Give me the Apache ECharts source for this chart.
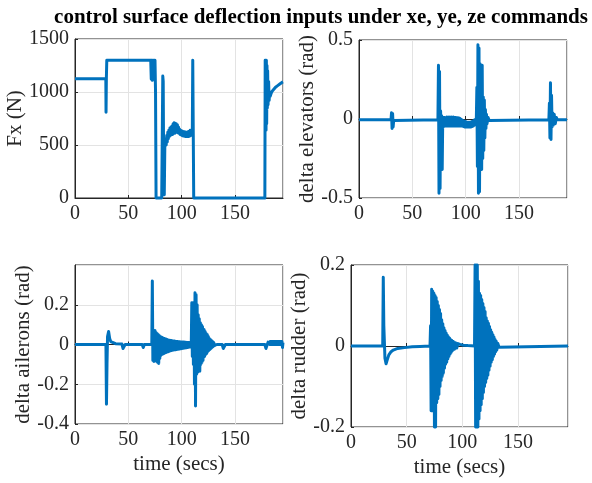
<!DOCTYPE html>
<html>
<head>
<meta charset="utf-8">
<script src="https://cdn.jsdelivr.net/npm/echarts@6/dist/echarts.min.js"></script>
<style>
  html, body { margin: 0; padding: 0; background: #fff; }
  #main { width: 592px; height: 483px; }
</style>
</head>
<body>
<div id="main"></div>
<script>
// time axis (secs)
const timeTicks = [0, 50, 100, 150];
const timeMax = 195;

// Fx (N) thrust command, [t, value]
const fxData = [
  [0, 1125], [28.9, 1125], [29.1, 810], [29.4, 1125], [29.8, 1300],
  [71, 1300], [71.5, 1120], [72, 1300], [72.5, 1110], [73, 1300], [73.5, 1150],
  [74, 1300], [74.5, 1200], [75, 1300], [75.5, 1000], [76, 0], [81.3, 0],
  [82.3, 1150], [82.7, 1100], [83.2, 100], [83.7, 30], [84.2, 480],
  [85, 560], [85.5, 500], [86, 590], [86.5, 530], [87, 620], [87.5, 560],
  [88, 640], [88.5, 580], [89, 660], [89.5, 590], [90, 670], [90.5, 600],
  [91, 680], [91.5, 600], [92, 700], [92.5, 610], [93, 710], [93.5, 610],
  [94, 705], [94.5, 620], [95, 700], [95.5, 620], [96, 690], [96.5, 615],
  [97, 670], [97.5, 610], [98, 650], [98.5, 600], [99, 640], [99.5, 595],
  [100, 635], [100.5, 590], [101, 630], [101.5, 585], [102, 625], [102.5, 585],
  [103, 625], [103.5, 580], [104, 620], [104.5, 580], [105, 620], [105.5, 580],
  [106, 625], [106.5, 580], [107, 630], [107.5, 585], [108, 640], [108.5, 590],
  [109, 640], [109.5, 600], [110, 640], [110.4, 1300], [110.9, 1300], [111.3, 0],
  [178, 0], [178.3, 1300], [178.8, 1250], [179.1, 640], [179.4, 1300], [179.7, 700],
  [180, 1250], [180.3, 850], [180.6, 1200], [181, 880], [181.5, 1100], [182, 920],
  [182.5, 1000], [183, 960], [184, 990], [185, 1010], [186, 1025], [188, 1045],
  [190, 1060], [192, 1075], [194, 1090], [195, 1095]
];

// delta elevators (rad)
const elevData = [
  [0, -0.005], [30, -0.005], [30.5, 0.04], [31, -0.06], [31.5, 0.035], [32, -0.05],
  [32.5, -0.01], [33.5, -0.005], [74, -0.005], [74.5, 0.34], [75, -0.47], [75.5, 0.3],
  [76, -0.44], [76.5, 0.05], [77, -0.1], [77.5, 0.02], [78, -0.32], [78.5, 0.0],
  [79, -0.05], [79.5, 0.01], [80, -0.04], [80.5, 0.01], [81, -0.045], [81.5, 0.01],
  [82, -0.04], [82.5, 0.012], [83, -0.045], [83.5, 0.01], [84, -0.04], [84.5, 0.012],
  [85, -0.045], [85.5, 0.01], [86, -0.04], [86.5, 0.012], [87, -0.045], [87.5, 0.01],
  [88, -0.04], [88.5, 0.012], [89, -0.045], [89.5, 0.01], [90, -0.04], [90.5, 0.01],
  [91, -0.045], [91.5, 0.008], [92, -0.04], [92.5, 0.008], [93, -0.045], [93.5, 0.006],
  [94, -0.045], [94.5, 0.004], [95, -0.045], [95.5, 0.0], [96, -0.045], [96.5, -0.005],
  [97, -0.045], [97.5, -0.01], [98, -0.048], [98.5, -0.012], [99, -0.05], [99.5, -0.015],
  [100, -0.05], [100.5, -0.018], [101, -0.05], [101.5, -0.02], [102, -0.05], [102.5, -0.02],
  [103, -0.05], [103.5, -0.02], [104, -0.05], [104.5, -0.02], [105, -0.05], [105.5, -0.018],
  [106, -0.048], [106.5, -0.015], [107, -0.045], [107.5, -0.01], [108, -0.04], [108.5, -0.005],
  [109, -0.035], [110, 0.0], [110.5, 0.2], [111, -0.3], [111.5, 0.47], [112, -0.47],
  [112.5, 0.45], [113, -0.46], [113.5, 0.35], [114, -0.3], [114.5, 0.33], [115, -0.32],
  [115.5, 0.34], [116, -0.25], [116.5, 0.14], [117, -0.2], [117.5, 0.12], [118, -0.12],
  [118.5, 0.06], [119, -0.06], [119.5, 0.03], [120, -0.03], [121, 0.01], [122, -0.01],
  [123, -0.005], [178, -0.005], [178.5, 0.1], [179, -0.12], [179.5, 0.23], [180, -0.13],
  [180.5, 0.15], [181, -0.05], [181.5, 0.04], [182, -0.04], [183, 0.03], [184, -0.03],
  [185, 0.01], [186, -0.005], [195, -0.005]
];

// delta ailerons (rad)
const ailData = [
  [0, 0], [29, 0], [29.5, -0.3], [30, -0.1], [30.5, 0.04], [31.5, 0.065], [32, 0.06],
  [32.5, 0.03], [33.5, 0.015], [35, 0.008], [38, 0.004], [44, 0.002], [45, -0.02],
  [46, -0.02], [47, 0], [63, 0], [64, -0.015], [65, 0], [72, 0], [72.5, 0.32],
  [73, -0.08], [73.5, 0.07], [74, -0.085], [75, 0.07], [75.5, -0.08], [76, 0.06],
  [76.5, -0.085], [77, 0.055], [77.5, -0.09], [78, 0.05], [78.5, -0.095], [79, 0.045],
  [79.5, -0.07], [80, 0.04], [80.5, -0.055], [81, 0.038], [81.5, -0.05], [82, 0.035],
  [82.5, -0.048], [83, 0.032], [83.5, -0.045], [84, 0.03], [84.5, -0.042], [85, 0.028],
  [85.5, -0.04], [86, 0.026], [86.5, -0.038], [87, 0.024], [87.5, -0.036], [88, 0.022],
  [88.5, -0.034], [89, 0.021], [89.5, -0.032], [90, 0.02], [90.5, -0.03], [91, 0.019],
  [91.5, -0.029], [92, 0.018], [92.5, -0.028], [93, 0.017], [93.5, -0.027], [94, 0.016],
  [94.5, -0.026], [95, 0.015], [95.5, -0.025], [96, 0.015], [96.5, -0.024], [97, 0.014],
  [97.5, -0.023], [98, 0.014], [98.5, -0.022], [99, 0.013], [99.5, -0.021], [100, 0.013],
  [100.5, -0.02], [101, 0.012], [101.5, -0.019], [102, 0.012], [102.5, -0.018], [103, 0.011],
  [103.5, -0.017], [104, 0.011], [104.5, -0.016], [105, 0.01], [105.5, -0.015], [106, 0.01],
  [106.5, -0.014], [107, 0.01], [107.5, -0.013], [108, 0.009], [108.5, -0.012], [109, 0.0],
  [109.5, 0.21], [110, -0.06], [110.5, 0.21], [111, -0.1], [111.5, 0.2], [112, -0.2],
  [112.5, 0.26], [113, -0.31], [113.5, 0.25], [114, -0.15], [114.5, 0.2], [115, -0.14],
  [115.5, 0.15], [116, -0.13], [116.5, 0.13], [117, -0.135], [117.5, 0.11], [118, -0.1],
  [118.5, 0.1], [119, -0.09], [119.5, 0.09], [120, -0.08], [121, 0.075], [121.5, -0.06],
  [122, 0.065], [122.5, -0.05], [123, 0.055], [123.5, -0.045], [124, 0.05], [124.5, -0.035],
  [125, 0.04], [125.5, -0.03], [126, 0.03], [126.5, -0.025], [127, 0.025], [127.5, -0.02],
  [128, 0.02], [128.5, -0.015], [129, 0.015], [129.5, -0.01], [130, 0.01], [131, -0.005],
  [132, 0.005], [133, 0], [138, 0], [139, -0.02], [140, -0.02], [141, 0], [158, 0],
  [159, -0.01], [160, 0], [178, 0], [179, -0.02], [180, -0.015], [181, 0.012], [182, 0.015],
  [182.5, 0.0], [183, 0.015], [183.5, 0.0], [184, 0.015], [184.5, 0.0], [185, 0.015],
  [185.5, 0.0], [186, 0.015], [186.5, 0.0], [187, 0.015], [187.5, 0.0], [188, 0.015],
  [188.5, 0.0], [189, 0.015], [189.5, 0.0], [190, 0.015], [190.5, 0.0], [191, 0.015],
  [191.5, 0.0], [192, 0.015], [192.5, 0.0], [193, 0.015], [193.5, 0.0], [194, 0.015],
  [194.5, -0.015], [195, 0.01]
];

// delta rudder (rad)
const rudData = [
  [0, 0], [28.5, 0], [29, 0.17], [29.5, 0.05], [30.5, -0.03], [31.5, -0.044], [32.5, -0.035],
  [34, -0.022], [36, -0.014], [38, -0.01], [42, -0.006], [48, -0.004], [55, -0.002],
  [62, -0.001], [71, 0], [71.5, 0.05], [72, -0.16], [72.5, 0.14], [73, -0.16], [73.5, 0.135],
  [74, -0.16], [74.5, 0.13], [75, -0.2], [75.5, 0.125], [76, -0.2], [76.5, 0.12],
  [77, -0.14], [77.5, 0.11], [78, -0.13], [78.5, 0.1], [79, -0.12], [79.5, 0.09],
  [80, -0.1], [80.5, 0.08], [81, -0.085], [81.5, 0.065], [82, -0.075], [82.5, 0.055],
  [83, -0.067], [83.5, 0.045], [84, -0.055], [84.5, 0.038], [85, -0.045], [85.5, 0.032],
  [86, -0.04], [86.5, 0.027], [87, -0.032], [87.5, 0.023], [88, -0.026], [88.5, 0.02],
  [89, -0.02], [89.5, 0.016], [90, -0.016], [90.5, 0.014], [91, -0.012], [92, 0.011],
  [93, -0.008], [94, 0.008], [95, -0.005], [96, 0.006], [98, 0.004], [101, 0.002],
  [105, 0.001], [111, 0], [111.5, 0.2], [112, -0.2], [112.5, 0.2], [113, -0.2],
  [113.5, 0.2], [114, -0.2], [114.5, 0.16], [115, -0.18], [115.5, 0.13], [116, -0.16],
  [116.5, 0.125], [117, -0.145], [117.5, 0.115], [118, -0.13], [118.5, 0.105], [119, -0.115],
  [119.5, 0.095], [120, -0.1], [120.5, 0.085], [121, -0.09], [121.5, 0.07], [122, -0.08],
  [122.5, 0.062], [123, -0.072], [123.5, 0.056], [124, -0.06], [124.5, 0.048], [125, -0.05],
  [125.5, 0.04], [126, -0.04], [126.5, 0.034], [127, -0.034], [127.5, 0.028], [128, -0.026],
  [128.5, 0.022], [129, -0.02], [129.5, 0.016], [130, -0.014], [130.5, 0.012], [131, -0.01],
  [132, 0.006], [133, -0.003], [134, 0], [195, 0]
];

const lineColor = '#0072BD';
const axisColor = '#262626';
const fontFam = '"Liberation Serif", "Times New Roman", serif';

const grids = [
  { left: 75, top: 39, width: 208, height: 159 },
  { left: 359, top: 40, width: 208, height: 158 },
  { left: 75, top: 265, width: 208, height: 159 },
  { left: 351, top: 265, width: 217, height: 162 }
];

// y axis settings; label x is the centre of the rotated name
const yAxes = [
  { name: 'Fx (N)', min: 0, max: 1500, interval: 500, labelX: 15, hideMax: false },
  { name: 'delta elevators (rad)', min: -0.5, max: 0.5, interval: 0.5, labelX: 307, hideMax: false },
  { name: 'delta ailerons (rad)', min: -0.4, max: 0.4, interval: 0.2, labelX: 23, hideMax: true },
  { name: 'delta rudder (rad)', min: -0.2, max: 0.2, interval: 0.2, labelX: 299, hideMax: false }
];

const seriesData = [fxData, elevData, ailData, rudData];

const option = {
  animation: false,
  backgroundColor: '#fff',
  title: {
    text: 'control surface deflection inputs under xe, ye, ze commands',
    left: 316,
    top: 2,
    textAlign: 'center',
    textStyle: { fontFamily: fontFam, fontWeight: 'bold', fontSize: 21, color: '#000' }
  },
  // rotated y-axis titles
  graphic: yAxes.map((a, i) => ({
    type: 'text',
    x: a.labelX,
    y: grids[i].top + grids[i].height / 2,
    rotation: Math.PI / 2,
    style: {
      text: a.name,
      fontFamily: fontFam,
      fontSize: 21,
      fill: axisColor,
      align: 'center',
      verticalAlign: 'middle'
    }
  })),
  grid: grids.map(g => Object.assign({ show: true, borderColor: axisColor, borderWidth: 1, backgroundColor: '#fff' }, g)),
  xAxis: grids.map((g, i) => ({
    gridIndex: i,
    type: 'value',
    min: 0,
    max: timeMax,
    interval: 50,
    name: i >= 2 ? 'time (secs)' : '',
    nameLocation: 'middle',
    nameGap: 30,
    nameTextStyle: { fontFamily: fontFam, fontSize: 21, color: axisColor },
    axisLine: { show: true, lineStyle: { color: axisColor, width: 1 } },
    axisTick: { show: true, inside: true, length: 3, lineStyle: { color: axisColor } },
    axisLabel: {
      showMaxLabel: false, margin: 6, fontFamily: fontFam, fontSize: 20, color: axisColor,
      formatter: v => String(v)
    },
    splitLine: { show: true, lineStyle: { color: '#e3e3e3', width: 1 } }
  })),
  yAxis: yAxes.map((a, i) => ({
    gridIndex: i,
    type: 'value',
    min: a.min,
    max: a.max,
    interval: a.interval,
    axisLine: { show: true, lineStyle: { color: axisColor, width: 1 } },
    axisTick: { show: true, inside: true, length: 3, lineStyle: { color: axisColor } },
    axisLabel: {
      showMaxLabel: !a.hideMax, margin: 6, fontFamily: fontFam, fontSize: 20, color: axisColor,
      formatter: v => String(v)
    },
    splitLine: { show: true, lineStyle: { color: '#e3e3e3', width: 1 } }
  })),
  series: seriesData.map((d, i) => ({
    type: 'line',
    xAxisIndex: i,
    yAxisIndex: i,
    data: d,
    symbol: 'none',
    clip: false,
    lineStyle: { color: lineColor, width: 3, join: 'round' }
  }))
};

const myChart = echarts.init(document.getElementById('main'));
myChart.setOption(option);
</script>
</body>
</html>
